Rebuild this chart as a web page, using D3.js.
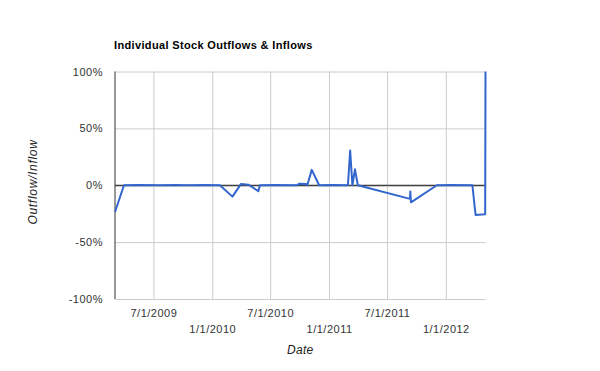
<!DOCTYPE html>
<html>
<head>
<meta charset="utf-8">
<script src="https://cdn.jsdelivr.net/npm/d3@7"></script>
<style>
  body { margin: 0; background: #fff; }
  svg { display: block; font-family: Arial, "Liberation Sans", sans-serif; }
</style>
</head>
<body>
<svg id="chart" width="600" height="371"></svg>
<script>
// data
const dates = [
  "2009-03-03", "2009-03-31", "2009-05-15", "2009-07-20", "2009-09-10", "2009-10-20",
  "2009-12-10", "2010-01-25", "2010-03-05", "2010-04-01", "2010-04-24", "2010-05-25",
  "2010-05-30", "2010-07-15", "2010-09-23", "2010-09-29", "2010-10-21", "2010-10-25",
  "2010-11-08", "2010-12-01", "2011-01-15", "2011-03-01", "2011-03-08", "2011-03-15",
  "2011-03-23", "2011-04-01", "2011-09-11", "2011-09-12", "2011-09-14", "2011-12-04",
  "2012-01-20", "2012-03-24", "2012-04-03", "2012-05-03", "2012-05-04"
];
const flows = [
  -0.235, 0, 0.002, 0, 0.003, 0,
  0.002, 0, -0.10, 0.012, 0.005, -0.052,
  0, 0.002, 0, 0.013, 0.01, 0,
  0.135, 0, 0.002, 0, 0.305, 0,
  0.14, 0, -0.12, -0.056, -0.15, 0,
  0.002, 0, -0.261, -0.255, 1.0
];
const xTickDates = ["2009-07-01", "2010-01-01", "2010-07-01", "2011-01-01", "2011-07-01", "2012-01-01"];
const xTickLabels = ["7/1/2009", "1/1/2010", "7/1/2010", "1/1/2011", "7/1/2011", "1/1/2012"];
const yTicks = [-1, -0.5, 0, 0.5, 1];
const yTickLabels = ["-100%", "-50%", "0%", "50%", "100%"];

const parse = d3.timeParse("%Y-%m-%d");
const data = dates.map((d, i) => ({ date: parse(d), value: flows[i] }));
const xTickVals = xTickDates.map(parse);

const svg = d3.select("#chart");
const plotLeft = 115, plotRight = 485.5, plotTop = 71.5, plotBottom = 299;

const x = d3.scaleTime()
  .domain(d3.extent(data, d => d.date))
  .range([plotLeft, plotRight]);

const y = d3.scaleLinear()
  .domain([-1, 1])
  .range([plotBottom, plotTop]);

// title
svg.append("text")
  .attr("x", 114)
  .attr("y", 48.5)
  .attr("font-size", 11)
  .attr("font-weight", "bold")
  .attr("letter-spacing", 0.35)
  .attr("fill", "#000")
  .text("Individual Stock Outflows & Inflows");

// horizontal gridlines + y labels
const yAxis = svg.append("g")
  .attr("transform", `translate(${plotLeft},0)`)
  .call(d3.axisLeft(y)
    .tickValues(yTicks)
    .tickSize(-(plotRight - plotLeft))
    .tickPadding(12)
    .tickFormat((d, i) => yTickLabels[i]));
yAxis.select(".domain").remove();
yAxis.selectAll("line")
  .attr("stroke", d => d === 0 ? "#333" : "#ccc");
yAxis.selectAll("text")
  .attr("font-size", 11)
  .attr("letter-spacing", 0.5)
  .attr("fill", "#333")
  .attr("dy", "0.32em");

// vertical gridlines + staggered x labels
const xAxis = svg.append("g")
  .attr("transform", `translate(0,${plotBottom})`)
  .call(d3.axisBottom(x)
    .tickValues(xTickVals)
    .tickSize(-(plotBottom - plotTop))
    .tickFormat((d, i) => xTickLabels[i]));
xAxis.select(".domain").remove();
xAxis.selectAll("line").attr("stroke", "#ccc");
xAxis.selectAll("text")
  .attr("font-size", 11)
  .attr("letter-spacing", 0.5)
  .attr("fill", "#333")
  .attr("y", (d, i) => i % 2 === 0 ? 17.5 : 33.5)
  .attr("dy", 0);

// left axis line
svg.append("line")
  .attr("x1", plotLeft).attr("x2", plotLeft)
  .attr("y1", plotTop).attr("y2", plotBottom)
  .attr("stroke", "#333");

// zero line on top of grid
svg.append("line")
  .attr("x1", plotLeft).attr("x2", plotRight)
  .attr("y1", y(0)).attr("y2", y(0))
  .attr("stroke", "#333");

// series
const line = d3.line()
  .x(d => x(d.date))
  .y(d => y(d.value));

svg.append("path")
  .datum(data)
  .attr("d", line)
  .attr("fill", "none")
  .attr("stroke", "#3366cc")
  .attr("stroke-width", 2)
  .attr("stroke-linejoin", "round");

// axis titles
svg.append("text")
  .attr("x", (plotLeft + plotRight) / 2)
  .attr("y", 353.5)
  .attr("text-anchor", "middle")
  .attr("font-size", 12)
  .attr("font-style", "italic")
  .attr("letter-spacing", 0.3)
  .attr("fill", "#222")
  .text("Date");

svg.append("text")
  .attr("transform", "translate(36.5,182) rotate(-90)")
  .attr("text-anchor", "middle")
  .attr("font-size", 12)
  .attr("font-style", "italic")
  .attr("letter-spacing", 0.7)
  .attr("fill", "#222")
  .text("Outflow/Inflow");
</script>
</body>
</html>
